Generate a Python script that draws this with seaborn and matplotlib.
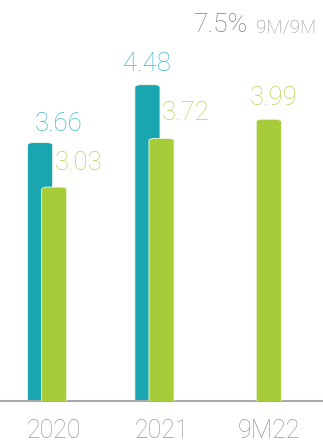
import matplotlib
matplotlib.use("Agg")
import matplotlib.pyplot as plt
import seaborn as sns
import pandas as pd
import numpy as np
from matplotlib.patches import FancyBboxPatch

categories = ["2020", "2021", "9M22"]
teal_values = [3.66, 4.48, np.nan]
green_values = [3.03, 3.72, 3.99]
teal_labels = ["3.66", "4.48", ""]
green_labels = ["3.03", "3.72", "3.99"]
growth_text = "7.5%"
growth_period = "9M/9M"

TEAL = "#19a6b1"
GREEN = "#a6cd39"
TEAL_TXT = "#45b8c5"
GREEN_TXT = "#b8d658"
GRAY = "#999999"

sns.set_theme(style="white")
plt.rcParams["font.family"] = ["Roboto", "DejaVu Sans"]
FW = "light"

fig = plt.figure(figsize=(3.23, 4.43), dpi=100)
ax = fig.add_axes([0, 42 / 443, 1, 401 / 443])

df_t = pd.DataFrame({"cat": categories, "val": teal_values})
df_g = pd.DataFrame({"cat": categories, "val": green_values})

bw = 0.234
shift = -0.131
n_before = len(ax.patches)
sns.barplot(data=df_t, x="cat", y="val", color=TEAL, width=bw, ax=ax,
            saturation=1, errorbar=None, order=categories)
teal_patches = ax.patches[n_before:]
n_mid = len(ax.patches)
sns.barplot(data=df_g, x="cat", y="val", color=GREEN, width=bw, ax=ax,
            saturation=1, errorbar=None, order=categories)
green_patches = ax.patches[n_mid:]

ax.set_xlim(-0.505, 2.505)
ax.set_ylim(0, 5.68)

px_per_x = 323 / 3.01
px_per_y = 401 / 5.68
r_px = 6
def round_patch(p, dx, color, z):
    x, y = p.get_x() + dx, p.get_y()
    w, h = p.get_width(), p.get_height()
    p.set_visible(False)
    if not np.isfinite(h) or h == 0:
        return
    ry = r_px / px_per_y
    aspect = px_per_x / px_per_y
    fb = FancyBboxPatch((x, y - ry), w, h + ry,
                        boxstyle=f"round,pad=0,rounding_size={r_px / px_per_x}",
                        mutation_aspect=1 / aspect,
                        facecolor=color, edgecolor="#f2f7e6", linewidth=0.6,
                        zorder=z, clip_on=True)
    ax.add_patch(fb)

for p in teal_patches:
    round_patch(p, shift, TEAL, 2)
for p in green_patches:
    round_patch(p, 0, GREEN, 3)

teal_lbl_pos = [(0.042, 3.92), (0.86, 4.77), None]
green_lbl_pos = [(0.229, 3.37), (1.224, 4.08), (2.047, 4.29)]
for lbl, pos in zip(teal_labels, teal_lbl_pos):
    if pos and lbl:
        ax.text(pos[0], pos[1], lbl, color=TEAL_TXT, fontsize=18.5,
                fontweight=FW, ha="center", va="center", zorder=5)
for lbl, pos in zip(green_labels, green_lbl_pos):
    if pos and lbl:
        ax.text(pos[0], pos[1], lbl, color=GREEN_TXT, fontsize=18.5,
                fontweight=FW, ha="center", va="center", zorder=5)

fig.text(248 / 323, 1 - 32 / 443, growth_text, color="#808080", fontsize=19,
         fontweight=FW, ha="right", va="baseline")
fig.text(256 / 323, 1 - 32 / 443, growth_period, color="#909090", fontsize=13.5,
         fontweight=FW, ha="left", va="baseline")

sns.despine(ax=ax, left=True, top=True, right=True, bottom=False)
ax.spines["bottom"].set_color("#a8a8a8")
ax.spines["bottom"].set_linewidth(1.5)
ax.set_yticks([])
ax.set_xlabel("")
ax.set_ylabel("")
ax.tick_params(axis="x", length=0, pad=13, labelsize=18, labelcolor=GRAY)
for t in ax.get_xticklabels():
    t.set_fontweight(FW)

fig.savefig("out.png", dpi=100)
